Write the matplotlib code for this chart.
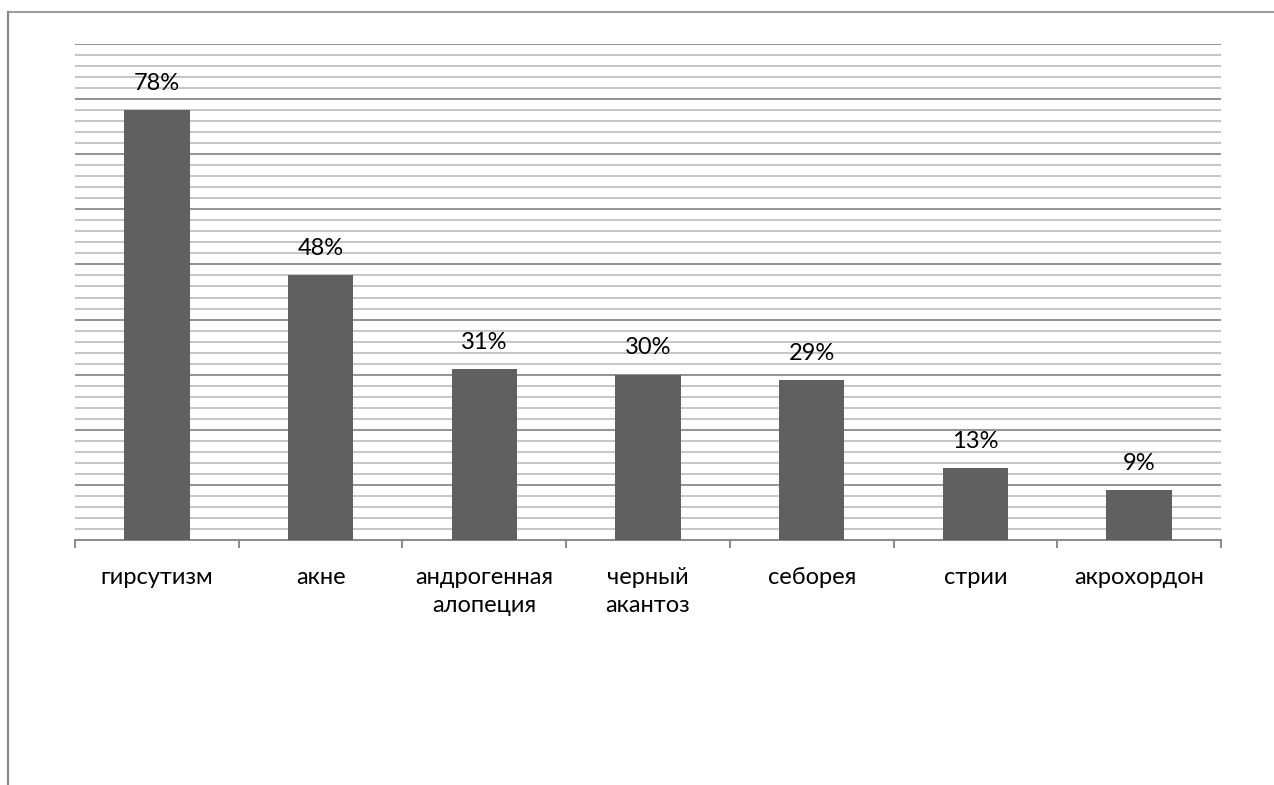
import numpy as np
import matplotlib.pyplot as plt
from matplotlib.lines import Line2D

categories = ["гирсутизм", "акне", "андрогенная\nалопеция", "черный\nакантоз",
              "себорея", "стрии", "акрохордон"]
values = [78, 48, 31, 30, 29, 13, 9]
labels = ["78%", "48%", "31%", "30%", "29%", "13%", "9%"]

plt.rcParams['font.family'] = ['Lato', 'DejaVu Sans']

W, H = 1274, 785
fig = plt.figure(figsize=(W / 100, H / 100), dpi=100)
ax = fig.add_axes([75 / W, 1 - 540 / H, (1221 - 75) / W, (540 - 44) / H])

x = np.arange(len(categories))
ax.bar(x, values, width=0.4, color="#606060", zorder=3)
for xi, v, lab in zip(x, values, labels):
    ax.text(xi, v + 3.0, lab, ha="center", va="bottom", fontsize=17, color="black")

ax.set_xlim(-0.5, len(categories) - 0.5)
ax.set_ylim(0, 90)

# gridlines: minor every 2, major every 10
for yv in np.arange(2, 91, 2):
    if yv % 10 == 0:
        ax.axhline(yv, color="#8a8a8a", lw=1.3, zorder=1)
    else:
        ax.axhline(yv, color="#c2c2c2", lw=1.3, zorder=1)

ax.set_yticks([])
ax.set_xticks([])
for s in ["top", "right", "left"]:
    ax.spines[s].set_visible(False)
ax.spines["bottom"].set_color("#8a8a8a")
ax.spines["bottom"].set_linewidth(1.4)

# category boundary ticks
ax.set_xticks(np.arange(-0.5, len(categories), 1), minor=True)
ax.tick_params(axis="x", which="minor", length=6, width=1.4, color="#8a8a8a", direction="out")
ax.tick_params(axis="x", which="major", length=0)

for xi, c in zip(x, categories):
    ax.annotate(c, xy=(xi, 0), xycoords="data", xytext=(0, -19.5), textcoords="offset points",
                ha="center", va="top", multialignment="center", fontsize=17, linespacing=1.4)

# outer chart frame (partly cut)
fig.add_artist(Line2D([8 / W, 8 / W], [0, 1 - 12 / H], transform=fig.transFigure,
                      color="#8a8a8a", lw=1.6))
fig.add_artist(Line2D([8 / W, 1], [1 - 12 / H, 1 - 12 / H], transform=fig.transFigure,
                      color="#8a8a8a", lw=1.2))

fig.savefig("out.png", dpi=100)
